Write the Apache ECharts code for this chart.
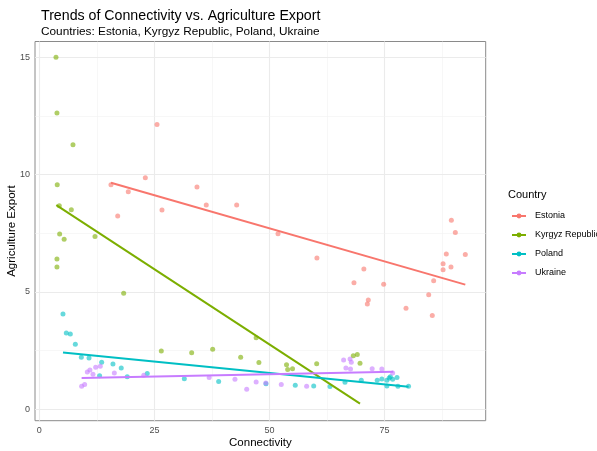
<!DOCTYPE html>
<html>
<head>
<meta charset="utf-8">
<script src="https://cdn.jsdelivr.net/npm/echarts@6/dist/echarts.min.js"></script>
<style>
html,body{margin:0;padding:0;background:#fff;}
#chart{width:597px;height:451px;}
</style>
</head>
<body>
<div id="chart"></div>
<script>
// ---- data ----
var countries = ['Estonia', 'Kyrgyz Republic', 'Poland', 'Ukraine'];
var colors = ['#F8766D', '#7CAE00', '#00BFC4', '#C77CFF'];

var estoniaPts = [[15.57,9.57],[17.03,8.24],[19.33,9.27],[23.03,9.86],[25.57,12.13],[26.65,8.49],[34.25,9.47],[36.27,8.70],[42.87,8.70],[51.85,7.48],[60.3,6.45],[68.35,5.39],[70.5,5.98],[71.46,4.66],[71.25,4.49],[74.8,5.33],[79.65,4.30],[84.58,4.88],[85.36,4.00],[85.66,5.48],[87.7,6.20],[87.7,5.95],[88.4,6.62],[89.42,6.06],[89.5,8.05],[90.36,7.53],[92.53,6.60]];
var kyrgyzPts = [[3.63,15.0],[3.84,12.62],[7.32,11.27],[3.9,9.57],[4.35,8.67],[6.96,8.5],[4.42,7.47],[5.4,7.24],[3.84,6.40],[3.84,6.06],[12.1,7.36],[18.33,4.94],[26.5,2.48],[33.1,2.41],[37.66,2.56],[43.74,2.22],[47.1,3.05],[47.7,1.99],[53.7,1.90],[53.95,1.70],[55.0,1.73],[60.25,1.94],[68.2,2.28],[69.07,2.33],[69.66,1.96]];
var polandPts = [[5.15,4.06],[5.87,3.25],[6.74,3.21],[7.83,2.77],[9.13,2.22],[10.8,2.19],[13.55,2.0],[16.0,1.93],[17.8,1.76],[13.1,1.43],[19.1,1.39],[23.45,1.53],[31.5,1.30],[38.96,1.18],[49.24,1.09],[55.6,1.02],[59.6,0.99],[63.14,0.97],[66.4,1.15],[69.94,1.24],[73.4,1.24],[74.4,1.29],[75.5,1.24],[76.0,1.33],[76.25,1.39],[76.75,1.28],[77.7,1.35],[75.5,0.99],[77.9,0.98],[80.2,0.98]];
var ukrainePts = [[9.2,0.98],[9.85,1.06],[10.43,1.59],[11.0,1.67],[11.66,1.49],[12.25,1.79],[13.25,1.83],[16.3,1.55],[22.7,1.45],[36.9,1.35],[42.5,1.28],[45.05,0.85],[47.1,1.16],[49.2,1.12],[52.56,1.06],[58.07,0.98],[66.1,2.10],[67.5,2.14],[67.77,2.0],[66.6,1.76],[67.6,1.72],[72.3,1.73],[74.4,1.72],[76.75,1.55]];

// fitted trend lines (endpoints)
var estoniaTrend = [[15.57,9.65],[92.53,5.31]];
var kyrgyzTrend = [[3.7,8.7],[69.66,0.24]];
var polandTrend = [[5.15,2.42],[80.2,0.96]];
var ukraineTrend = [[9.2,1.33],[76.9,1.6]];

var xTicks = [0, 25, 50, 75];
var xMinor = [12.5, 37.5, 62.5, 87.5];
var yTicks = [0, 5, 10, 15];
var yMinor = [2.5, 7.5, 12.5];

var pts = [estoniaPts, kyrgyzPts, polandPts, ukrainePts];
var trends = [estoniaTrend, kyrgyzTrend, polandTrend, ukraineTrend];

var FONT = 'Liberation Sans, Arial, Helvetica, sans-serif';

var gridLines = [];
xTicks.forEach(function(v){ gridLines.push({xAxis: v, lineStyle:{color:'#ebebeb', width:1.1, type:'solid'}}); });
xMinor.forEach(function(v){ gridLines.push({xAxis: v, lineStyle:{color:'#f2f2f2', width:0.6, type:'solid'}}); });
yTicks.forEach(function(v){ gridLines.push({yAxis: v, lineStyle:{color:'#ebebeb', width:1.1, type:'solid'}}); });
yMinor.forEach(function(v){ gridLines.push({yAxis: v, lineStyle:{color:'#f2f2f2', width:0.6, type:'solid'}}); });

var series = [];
countries.forEach(function(c, i){
  series.push({
    name: c, type: 'line', data: trends[i], z: 4,
    symbol: 'circle', showSymbol: false, silent: true,
    lineStyle: {color: colors[i], width: 2},
    itemStyle: {color: colors[i]},
    animation: false
  });
});
countries.forEach(function(c, i){
  series.push({
    name: c, type: 'scatter', data: pts[i], z: 3,
    symbol: 'circle', symbolSize: 5,
    itemStyle: {color: colors[i], opacity: 0.6, borderWidth: 0},
    emphasis: {disabled: true},
    animation: false
  });
});
series.push({
  name: '_grid', type: 'scatter', data: [[0,0]], symbolSize: 0, z: 1, silent: true,
  markLine: {z: 1, silent: true, symbol: ['none','none'], label: {show:false}, animation:false, data: gridLines}
});

var option = {
  backgroundColor: '#fff',
  animation: false,
  title: [
    {text: 'Trends of Connectivity vs. Agriculture Export', left: 36, top: 4,
     textStyle: {fontFamily: FONT, fontSize: 14.2, fontWeight: 'normal', color: '#000'}},
    {text: 'Countries: Estonia, Kyrgyz Republic, Poland, Ukraine', left: 36, top: 21,
     textStyle: {fontFamily: FONT, fontSize: 11.8, fontWeight: 'normal', color: '#000'}},
    {text: 'Country', left: 503, top: 184,
     textStyle: {fontFamily: FONT, fontSize: 11, fontWeight: 'normal', color: '#000'}}
  ],
  legend: {
    data: countries, orient: 'vertical', left: 506, top: 206,
    itemWidth: 14, itemHeight: 6, itemGap: 9,
    textStyle: {fontFamily: FONT, fontSize: 9, color: '#000', lineHeight: 10, padding: [0,0,0,4]},
    selectedMode: false
  },
  grid: {left: 35, right: 111.3, top: 41.5, bottom: 30.3, show: true,
         outerBoundsMode: 'none', containLabel: false,
         backgroundColor: '#fff', borderColor: '#8a8a8a', borderWidth: 1},
  xAxis: {
    type: 'value', min: -0.93, max: 96.96,
    name: 'Connectivity', nameLocation: 'middle', nameGap: 16, nameMoveOverlap: false,
    nameTextStyle: {fontFamily: FONT, fontSize: 11.5, color: '#000'},
    axisLine: {show: false},
    axisTick: {show: true, length: 3, customValues: xTicks, lineStyle: {color: '#333'}},
    axisLabel: {customValues: xTicks, margin: 5, fontFamily: FONT, fontSize: 9, color: '#4d4d4d'},
    splitLine: {show: false}
  },
  yAxis: {
    type: 'value', min: -0.486, max: 15.67,
    name: 'Agriculture Export', nameLocation: 'middle', nameGap: 17, nameMoveOverlap: false,
    nameTextStyle: {fontFamily: FONT, fontSize: 11.5, color: '#000'},
    axisLine: {show: false},
    axisTick: {show: true, length: 3, customValues: yTicks, lineStyle: {color: '#333'}},
    axisLabel: {customValues: yTicks, margin: 5, fontFamily: FONT, fontSize: 9, color: '#4d4d4d'},
    splitLine: {show: false}
  },
  series: series
};

var chart = echarts.init(document.getElementById('chart'), null, {renderer: 'canvas'});
chart.setOption(option);
</script>
</body>
</html>
